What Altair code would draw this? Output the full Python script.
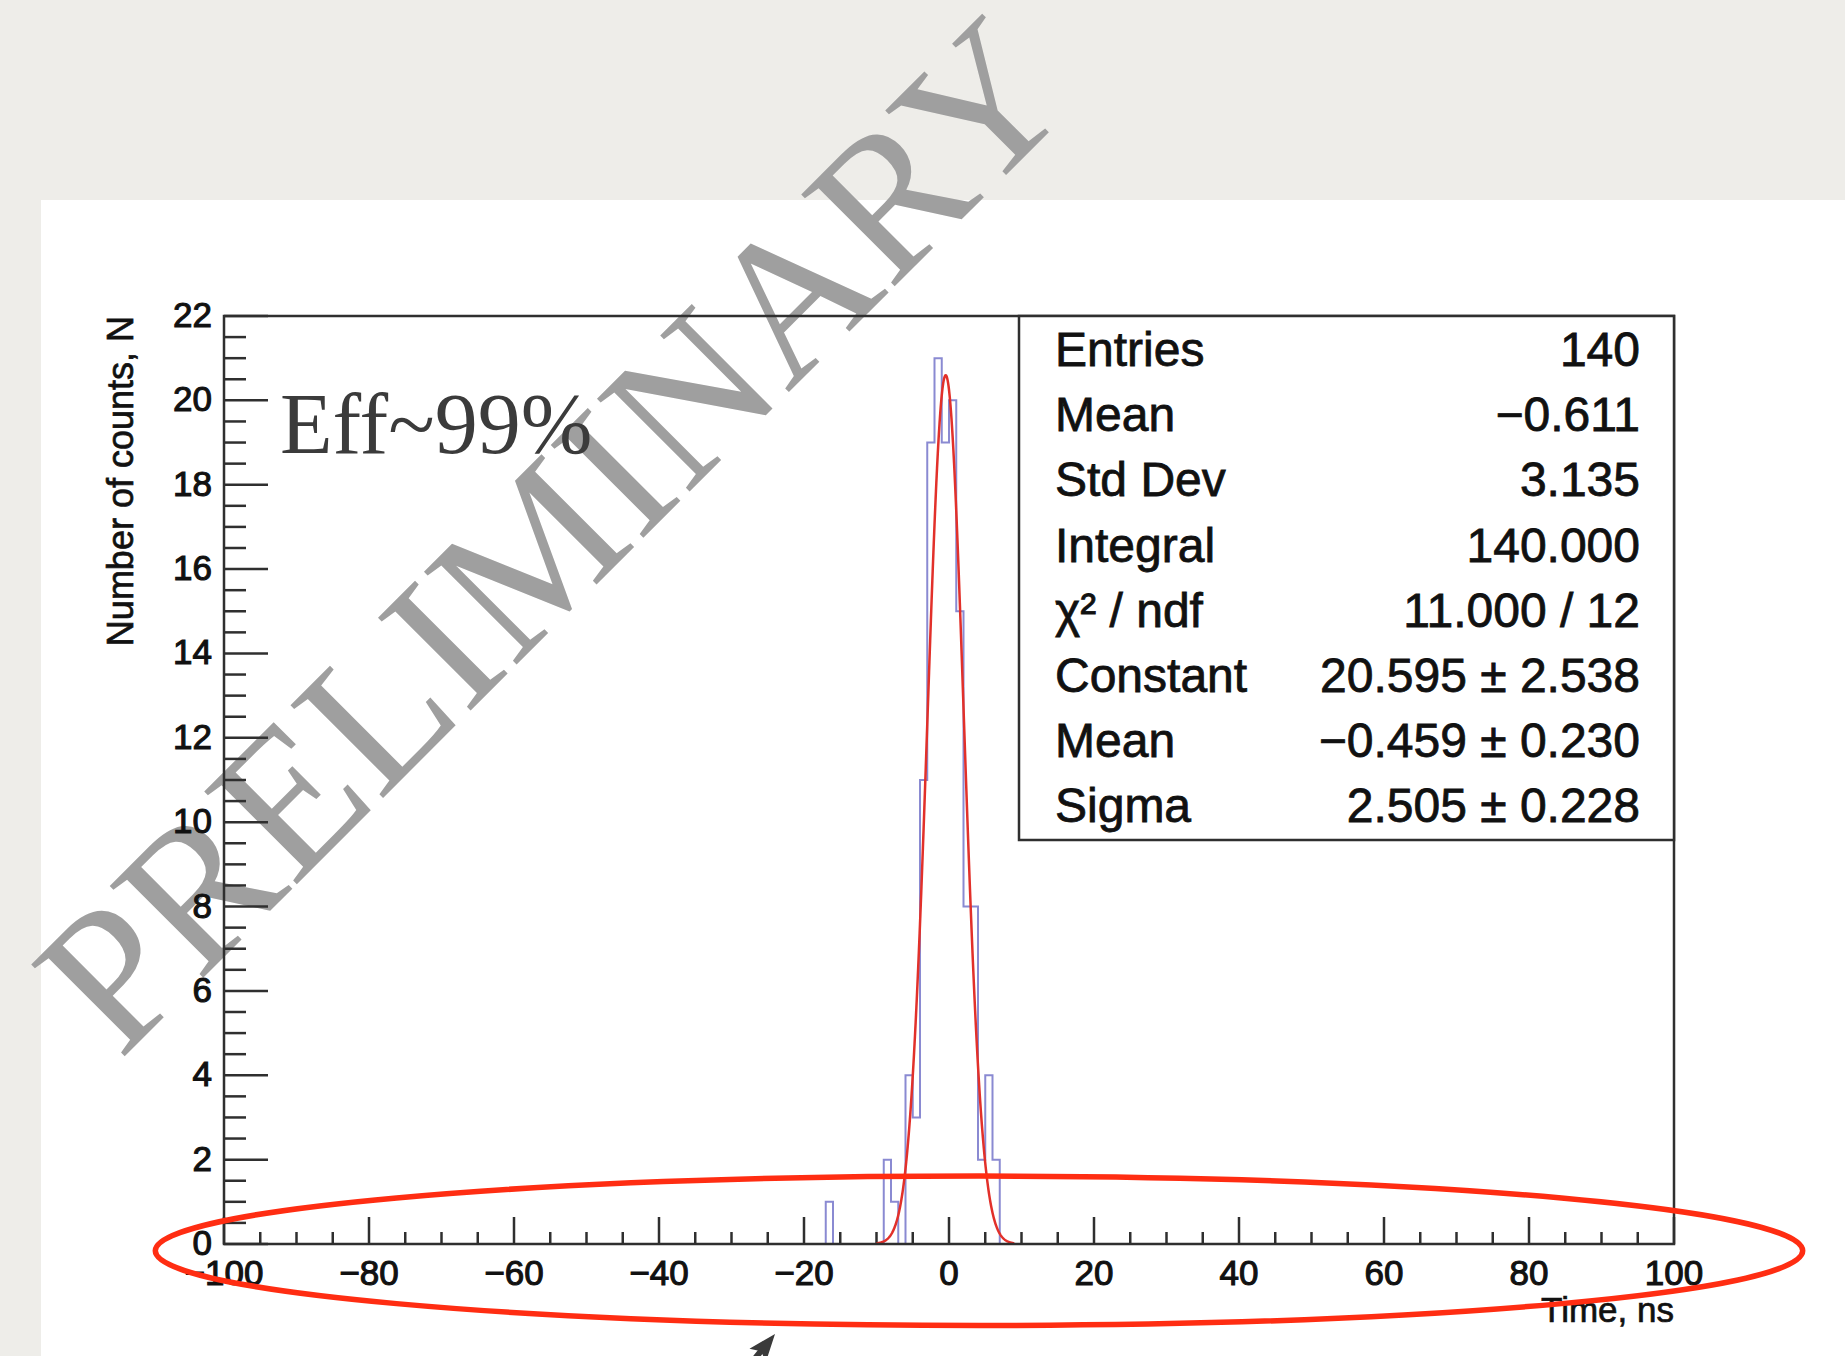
import altair as alt
import pandas as pd

# ---- histogram: non-empty 1 ns bins (lower edge -> entries) ----
hist_range = [-100, 100]
bin_width = 1
bin_low = [-17, -9, -8, -6, -5, -4, -3, -2, -1, 0, 1, 2, 3, 4, 5, 6]
bin_count = [1, 2, 1, 4, 3, 11, 19, 21, 19, 20, 15, 8, 8, 2, 4, 2]

# ---- gaussian fit result ----
fit_constant, fit_constant_err = 20.595, 2.538
fit_mean, fit_mean_err = -0.459, 0.230
fit_sigma, fit_sigma_err = 2.505, 0.228
fit_chi2, fit_ndf = 11.000, 12
fit_range = [-10.0, 9.0]

# ---- statistics box ----
MINUS = "\u2212"


def signed(v):
    return f"{v:.3f}".replace("-", MINUS)


stat_labels = ["Entries", "Mean", "Std Dev", "Integral", "\u03c7\u00b2 / ndf",
               "Constant", "Mean", "Sigma"]
stat_values = [
    f"{sum(bin_count)}",
    signed(-0.611),
    "3.135",
    f"{float(sum(bin_count)):.3f}",
    f"{fit_chi2:.3f} / {fit_ndf}",
    f"{signed(fit_constant)} \u00b1 {fit_constant_err:.3f}",
    f"{signed(fit_mean)} \u00b1 {fit_mean_err:.3f}",
    f"{signed(fit_sigma)} \u00b1 {fit_sigma_err:.3f}",
]

# ---- axes ----
x_title = "Time, ns"
y_title = "Number of counts, N"
x_major = list(range(-100, 101, 20))
x_minor = [v for v in range(-100, 101, 5) if v % 20]
y_major = list(range(0, 23, 2))
y_minor = [v / 2 for v in range(0, 45) if v % 4]

# ---- page geometry / styling ----
PLOT_W, PLOT_H = 1450, 928
PAD = {"left": 224, "top": 316, "right": 1845 - 224 - 1450, "bottom": 1356 - 316 - 928}
SANS = "Liberation Sans"
SERIF = "Liberation Serif"
INK = "#111111"
AXIS = "#2f2f2f"

x_scale = alt.Scale(domain=hist_range, nice=False, zero=False)
y_scale = alt.Scale(domain=[0, 22], nice=False, zero=False)

one = pd.DataFrame({"k": [0]})

# white sheet behind the figure
panel = alt.Chart(one).mark_rect(fill="white").encode(
    x=alt.value(41 - PAD["left"]), x2=alt.value(1845 - PAD["left"]),
    y=alt.value(200 - PAD["top"]), y2=alt.value(1356 - PAD["top"]))

watermark = alt.Chart(pd.DataFrame({"s": ["PRELIMINARY"]})).mark_text(
    font=SERIF, fontSize=200, angle=315, color="#9f9f9f",
    align="center", baseline="alphabetic").encode(
    x=alt.value(375), y=alt.value(266), text="s:N")


def x_ticks(values, length):
    return alt.Chart(pd.DataFrame({"v": values})).mark_rule(
        color=AXIS, strokeWidth=2.5).encode(
        x=alt.X("v:Q", scale=x_scale, axis=None),
        y=alt.value(PLOT_H), y2=alt.value(PLOT_H - length))


def y_ticks(values, length):
    return alt.Chart(pd.DataFrame({"v": values})).mark_rule(
        color=AXIS, strokeWidth=2.5).encode(
        y=alt.Y("v:Q", scale=y_scale, axis=None),
        x=alt.value(0), x2=alt.value(length))


label_style = dict(font=SANS, fontSize=35, color=INK, stroke=INK, strokeWidth=1.1)

x_labels = alt.Chart(pd.DataFrame({"v": x_major})).mark_text(
    align="center", baseline="alphabetic", **label_style).encode(
    x=alt.X("v:Q", scale=x_scale, axis=None), y=alt.value(PLOT_H + 41),
    text=alt.Text("v:Q", format="d"))

y_labels = alt.Chart(pd.DataFrame({"v": y_major})).mark_text(
    align="right", baseline="middle", **label_style).encode(
    y=alt.Y("v:Q", scale=y_scale, axis=None), x=alt.value(-12),
    text=alt.Text("v:Q", format="d"))

x_title_mark = alt.Chart(pd.DataFrame({"s": [x_title]})).mark_text(
    font=SANS, fontSize=35, color=INK, stroke=INK, strokeWidth=0.7,
    align="right", baseline="alphabetic").encode(
    x=alt.value(PLOT_W), y=alt.value(PLOT_H + 78), text="s:N")

y_title_mark = alt.Chart(pd.DataFrame({"s": [y_title]})).mark_text(
    font=SANS, fontSize=36, color=INK, stroke=INK, strokeWidth=0.7,
    align="right", baseline="alphabetic", angle=270).encode(
    x=alt.value(-91), y=alt.value(0), text="s:N")

# histogram outline as a step line over all bins of the range
edges = list(range(hist_range[0], hist_range[1], bin_width))
filled = dict(zip(bin_low, bin_count))
hist_df = pd.DataFrame({
    "t": edges + [hist_range[1]],
    "n": [filled.get(e, 0) for e in edges] + [0],
})

hist = alt.Chart(hist_df).mark_line(
    interpolate="step-after", stroke="#8a8ad2", strokeWidth=2).encode(
    x=alt.X("t:Q", scale=x_scale, axis=None),
    y=alt.Y("n:Q", scale=y_scale, axis=None))

fit = alt.Chart(alt.sequence(fit_range[0], fit_range[1] + 0.01, 0.05, as_="t")).transform_calculate(
    n=f"{fit_constant} * exp(-0.5 * pow((datum.t - ({fit_mean})) / {fit_sigma}, 2))"
).mark_line(stroke="#e2302a", strokeWidth=2.5).encode(
    x=alt.X("t:Q", scale=x_scale, axis=None),
    y=alt.Y("n:Q", scale=y_scale, axis=None))

frame = alt.Chart(one).mark_rect(fillOpacity=0, stroke=AXIS, strokeWidth=2.5).encode(
    x=alt.value(0), x2=alt.value(PLOT_W), y=alt.value(0), y2=alt.value(PLOT_H))

stats_box = alt.Chart(one).mark_rect(fill="white", stroke=AXIS, strokeWidth=2.5).encode(
    x=alt.value(795), x2=alt.value(PLOT_W), y=alt.value(0), y2=alt.value(524))

stats_df = pd.DataFrame({"row": list(range(len(stat_labels))),
                         "label": stat_labels, "value": stat_values})
stats_base = alt.Chart(stats_df).transform_calculate(py="50 + 65.2 * datum.row")
stats_style = dict(baseline="alphabetic", font=SANS, fontSize=48, color=INK,
                   stroke=INK, strokeWidth=0.8)
stats_labels = stats_base.mark_text(align="left", **stats_style).encode(
    x=alt.value(831), y=alt.Y("py:Q", scale=None, axis=None), text="label:N")
stats_values = stats_base.mark_text(align="right", **stats_style).encode(
    x=alt.value(1416), y=alt.Y("py:Q", scale=None, axis=None), text="value:N")

eff = alt.Chart(pd.DataFrame({"s": ["Eff~99%"]})).mark_text(
    font=SERIF, fontSize=86, color="#3b3b3b", align="left", baseline="alphabetic").encode(
    x=alt.value(56), y=alt.value(137), text="s:N")

# red ellipse around the time axis
ELLIPSE = ("M -1 0 C -1 -0.0501 -0.5523 -0.0907 0 -0.0907 "
           "C 0.5523 -0.0907 1 -0.0501 1 0 "
           "C 1 0.0501 0.5523 0.0907 0 0.0907 "
           "C -0.5523 0.0907 -1 0.0501 -1 0 Z")
ellipse = alt.Chart(one).mark_point(
    shape=ELLIPSE, filled=False, color="#ff2d12", strokeWidth=5.5, opacity=1).encode(
    x=alt.value(755), y=alt.value(934.8), size=alt.value(2713927))

# pointer arrow at the bottom
shaft = alt.Chart(one).mark_rule(color="#3a3a3a", strokeWidth=6).encode(
    x=alt.value(541), y=alt.value(1030), x2=alt.value(521), y2=alt.value(1055))
ARROWHEAD = "M 0 -1 L 0.62 0.62 L 0 0.3 L -0.62 0.62 Z"
head = alt.Chart(one).mark_point(
    shape=ARROWHEAD, filled=True, color="#3a3a3a", opacity=1, angle=39).encode(
    x=alt.value(540.3), y=alt.value(1031.2), size=alt.value(1156))

chart = alt.layer(
    panel, watermark,
    y_ticks(y_minor, 22), y_ticks(y_major, 44),
    x_ticks(x_minor, 12), x_ticks(x_major, 27),
    hist, fit, frame,
    x_labels, y_labels, x_title_mark, y_title_mark,
    stats_box, stats_labels, stats_values,
    eff, ellipse, shaft, head,
).properties(
    width=PLOT_W, height=PLOT_H,
    autosize=alt.AutoSizeParams(type="none"),
    padding=PAD,
    background="#eeede9",
).configure_view(strokeWidth=0)

chart.save("out.html", embed_options={"renderer": "svg", "actions": False})
